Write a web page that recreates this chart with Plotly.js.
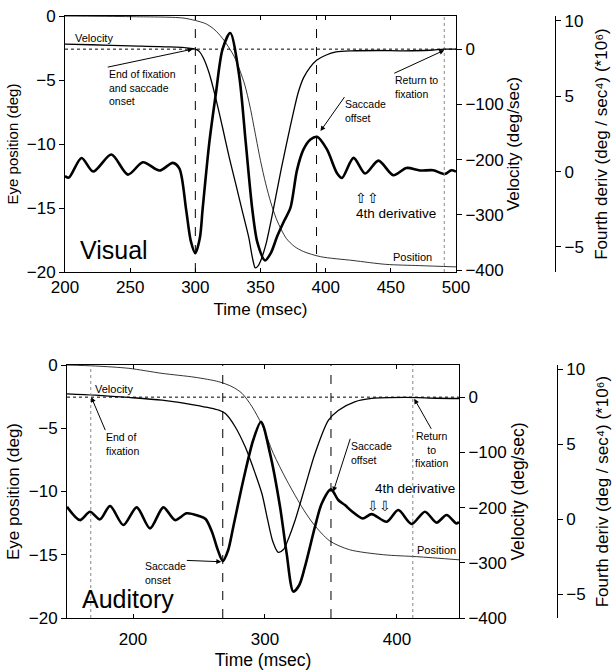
<!DOCTYPE html>
<html>
<head>
<meta charset="utf-8">
<script src="https://cdn.plot.ly/plotly-3.0.1.min.js"></script>
<style>html,body{margin:0;padding:0;background:#fff;}#chart{width:612px;height:670px;}</style>
</head>
<body>
<div id="chart"></div>
<script>
// ---------- Visual saccade (top panel) ----------
const visPosT = [200, 250, 290, 300, 308, 314, 318, 322, 326, 330, 334, 338, 342, 346, 350, 354, 358, 362, 366, 370, 376, 383, 396, 421, 446, 472, 500];
const visPos  = [0, -0.05, -0.15, -0.35, -0.6, -1.0, -1.4, -1.9, -2.5, -3.2, -4.2, -5.4, -7.1, -9.2, -11.3, -13.1, -14.6, -15.8, -16.7, -17.4, -18.0, -18.4, -18.8, -19.1, -19.4, -19.5, -19.6];

const visVelT = [200, 220, 250, 280, 295, 300, 303, 306, 310.7, 315.8, 320.8, 326, 331, 336, 341, 344, 346, 348, 350, 354, 358, 362, 366, 370, 375.6, 379, 383, 388, 393, 400, 408, 420, 440, 460, 480, 491, 500];
const visVel  = [9, 8, 6, 4, 2, 0, -4, -15, -44, -90, -141, -196, -244, -293, -341, -380, -396, -393, -384, -355, -312, -264, -216, -171, -111, -78, -52, -33, -20, -11, -5, -3, -2.5, -3, -2, 0, 0];

const vis4T = [200, 203, 212.7, 221.6, 235.6, 248.3, 259.8, 272.5, 282.7, 287.8, 292.9, 296.5, 300, 303.5, 305.6, 310.7, 315.8, 320.8, 326.8, 333.6, 338.7, 343.7, 347.6, 353.5, 358, 362.8, 368, 373, 378, 383, 388.3, 393.4, 401, 408.6, 412.5, 421.4, 430.3, 440.5, 451.9, 462, 472.3, 482.4, 491.4, 496.4, 500];
const vis4  = [-0.3, -0.4, 0.9, 0.0, 1.13, -0.2, 0.62, 0.07, 0.58, 0.2, -2.5, -4.6, -5.42, -4.4, -2.5, 1.9, 5.2, 8.1, 9.2, 6.4, 1.9, -2.5, -4.7, -5.9, -5.4, -4.3, -3.3, -2.4, 0.1, 1.47, 2.13, 2.31, 1.47, -0.09, -0.42, 0.91, -0.13, 0.73, -0.24, 0.24, 0.07, 0.09, -0.16, 0.09, 0.0];

const visDashed = [300, 393];   // saccade onset / offset
const visDotted = [491];        // return to fixation
const visXTicks = [200, 250, 300, 350, 400, 450, 500];

// ---------- Auditory saccade (bottom panel) ----------
const audPosT = [150, 171.5, 196.7, 222, 247, 265, 275, 282.6, 290.2, 297.7, 306.3, 316.4, 329, 337, 349, 364, 390, 415, 447];
const audPos  = [0, -0.08, -0.26, -0.66, -0.97, -1.32, -1.71, -2.24, -3.3, -4.74, -6.98, -9.1, -11.4, -12.6, -13.9, -14.6, -15.0, -15.15, -15.4];

const audVelT = [150, 171.5, 196.7, 222, 247, 265, 270, 277.5, 285, 292.7, 297.7, 302, 306, 310, 314, 318, 322.7, 330.3, 337.9, 348, 355.5, 368, 380.8, 406, 430, 447];
const audVel  = [6, 3.5, -0.5, -5.5, -14.5, -23.6, -29.7, -54, -90, -139, -175, -222, -262, -281, -276, -255, -224, -163, -102, -42, -24, -8.5, -2.4, -0.5, -2, -2.4];

const aud4T = [150, 159.8, 167.4, 175, 182.6, 192.7, 202.8, 212.9, 223, 231.8, 240.7, 250, 255, 260, 264, 268, 272, 276, 283.6, 291.1, 297, 303.8, 311.4, 316.4, 321.5, 326, 330.3, 337.9, 343, 350, 355.5, 360.6, 366, 374, 380.8, 392.2, 401, 411.1, 421.2, 430, 437.6, 445, 447];
const aud4  = [0.82, -0.07, 0.49, -0.02, 0.87, -0.4, 0.78, -0.62, 0.78, -0.07, 0.38, 0.2, 0.0, -0.9, -2.0, -2.8, -2.1, -0.51, 2.6, 5.27, 6.49, 4.38, 0.82, -2.29, -4.84, -4.4, -3.18, -0.51, 1.04, 1.98, 1.27, 0.93, 0.5, 0.04, 0.33, -0.18, 0.6, -0.33, 0.49, -0.24, 0.27, -0.29, -0.2];

const audDashed = [268, 350];
const audDotted = [168, 412];
const audXTicks = [200, 300, 400];

const posTicks = [-20, -15, -10, -5, 0];
const velTicks = [-400, -300, -200, -100, 0];
const d4Ticks  = [-5, 0, 5, 10];

const F = 'Liberation Sans, Arial, Helvetica, sans-serif';
const D4_TITLE = 'Fourth deriv (deg / sec\u2074) (*10\u2076)';

function line(x, y, xa, ya, w) {
  return {x: x, y: y, xaxis: xa, yaxis: ya, type: 'scatter', mode: 'lines',
          line: {color: 'black', width: w, shape: 'spline', smoothing: 0.8}, hoverinfo: 'skip'};
}

const traces = [
  line(visPosT, visPos, 'x', 'y', 0.8),
  line(visVelT, visVel, 'x', 'y2', 1.3),
  line(vis4T, vis4, 'x', 'y3', 2.6),
  line(audPosT, audPos, 'x2', 'y4', 0.8),
  line(audVelT, audVel, 'x2', 'y5', 1.3),
  line(aud4T, aud4, 'x2', 'y6', 2.6)
];

const shapes = [];
function vlines(arr, xr, yr, dash, color) {
  arr.forEach(t => shapes.push({type: 'line', xref: xr, yref: yr + ' domain', x0: t, x1: t, y0: 0, y1: 1,
    line: {color: color, width: 1, dash: dash}}));
}
vlines(visDashed, 'x', 'y', 'dash', 'black');
vlines(visDotted, 'x', 'y', 'dot', '#888');
vlines(audDashed, 'x2', 'y4', 'dash', 'black');
vlines(audDotted, 'x2', 'y4', 'dot', '#888');
shapes.push({type: 'line', xref: 'x domain', yref: 'y2', x0: 0, x1: 1, y0: 0, y1: 0, line: {color: 'black', width: 1, dash: 'dot'}});
shapes.push({type: 'line', xref: 'x2 domain', yref: 'y5', x0: 0, x1: 1, y0: 0, y1: 0, line: {color: 'black', width: 1, dash: 'dot'}});

function txt(text, x, y, xr, yr, size, xanchor, extra) {
  return Object.assign({text: text, x: x, y: y, xref: xr, yref: yr, showarrow: false,
    xanchor: xanchor || 'left', yanchor: 'middle', font: {family: F, size: size, color: 'black'}}, extra || {});
}
// labelled arrow: head at (x, y) in data units, text box anchored at the tail offset (ax, ay) in pixels
function callout(text, x, y, xr, yr, ax, ay, xanchor, align) {
  return {text: text, x: x, y: y, xref: xr, yref: yr, showarrow: true, ax: ax, ay: ay,
    xanchor: xanchor || 'left', yanchor: 'top', align: align || 'left', borderpad: 0,
    arrowhead: 2, arrowsize: 1, arrowwidth: 1, arrowcolor: 'black',
    font: {family: F, size: 10.5, color: 'black'}};
}

const annotations = [
  // top panel
  txt('Velocity', 222.1, -1.72, 'x', 'y', 11, 'center'),
  callout('End of fixation<br>and saccade<br>onset', 298, 0, 'x', 'y2', -85, 18),
  callout('Return to<br>fixation', 491, -2, 'x', 'y2', -50, 23),
  callout('Saccade<br>offset', 396, 2.69, 'x', 'y3', 24, -34),
  txt('4th derivative', 454.2, -15.4, 'x', 'y', 13.5, 'center'),
  txt('⇧⇧', 431.7, -14.2, 'x', 'y', 14, 'center'),
  txt('Position', 450.4, -18.8, 'x', 'y', 11),
  txt('Visual', 209.9, -18.3, 'x', 'y', 25),
  // bottom panel
  txt('Velocity', 185.4, -1.9, 'x2', 'y4', 11, 'center'),
  callout('End of<br>fixation', 168.4, 0, 'x2', 'y5', 14, 33),
  callout('Saccade<br>onset', 266.9, -2.85, 'x2', 'y6', -77, -3),
  callout('Saccade<br>offset', 351.7, 1.82, 'x2', 'y6', 17, -53),
  callout('Return<br>to<br>fixation', 413.1, -3, 'x2', 'y5', 17, 30, 'center', 'center'),
  txt('4th derivative', 413.6, -9.75, 'x2', 'y4', 13.5, 'center'),
  txt('⇩⇩', 386.7, -11.15, 'x2', 'y4', 14, 'center'),
  txt('Position', 413.6, -14.62, 'x2', 'y4', 11),
  txt('Auditory', 159.8, -18.5, 'x2', 'y4', 25)
];

const axCommon = {showgrid: false, zeroline: false, showline: true, linecolor: 'black', linewidth: 1,
  tickcolor: 'black', tickwidth: 1, tickfont: {family: F, size: 17, color: 'black'}};

const layout = {
  width: 612, height: 670, margin: {l: 0, r: 0, t: 0, b: 0},
  paper_bgcolor: 'white', plot_bgcolor: 'white', showlegend: false,
  font: {family: F, color: 'black', size: 17},
  xaxis: Object.assign({}, axCommon, {domain: [0.1062, 0.7451], range: [200, 500], anchor: 'y',
    tickvals: visXTicks, ticks: 'inside', ticklen: 4, mirror: 'ticks',
    title: {text: 'Time (msec)', font: {family: F, size: 17}, standoff: 6}}),
  yaxis: Object.assign({}, axCommon, {domain: [0.594, 0.9761], range: [-20, 0], anchor: 'x',
    tickvals: posTicks, ticks: 'outside', ticklen: 5, mirror: true,
    title: {text: 'Eye position (deg)', font: {family: F, size: 15}, standoff: 4}}),
  yaxis2: Object.assign({}, axCommon, {overlaying: 'y', side: 'right', anchor: 'x', range: [-403.6, 60],
    tickvals: velTicks, ticks: 'outside', ticklen: 5,
    title: {text: 'Velocity (deg/sec)', font: {family: F, size: 17}, standoff: 4}}),
  yaxis3: Object.assign({}, axCommon, {overlaying: 'y', side: 'right', anchor: 'free', position: 0.907,
    range: [-6.67, 10.33], tickvals: d4Ticks, ticks: 'outside', ticklen: 5,
    title: {text: D4_TITLE, font: {family: F, size: 17}, standoff: 12}}),
  xaxis2: Object.assign({}, axCommon, {domain: [0.1095, 0.75], range: [150, 447], anchor: 'y4',
    tickvals: audXTicks, ticks: 'inside', ticklen: 4, mirror: 'ticks', ticklabelstandoff: 6,
    title: {text: 'Time (msec)', font: {family: F, size: 17.5}, standoff: 7}}),
  yaxis4: Object.assign({}, axCommon, {domain: [0.0776, 0.4552], range: [-20, 0], anchor: 'x2',
    tickvals: posTicks, ticks: 'outside', ticklen: 5, mirror: true,
    title: {text: 'Eye position (deg)', font: {family: F, size: 17}, standoff: 4}}),
  yaxis5: Object.assign({}, axCommon, {overlaying: 'y4', side: 'right', anchor: 'x2', range: [-400, 58.2],
    tickvals: velTicks, ticks: 'outside', ticklen: 5,
    title: {text: 'Velocity (deg/sec)', font: {family: F, size: 17.5}, standoff: 6}}),
  yaxis6: Object.assign({}, axCommon, {overlaying: 'y4', side: 'right', anchor: 'free', position: 0.910,
    range: [-6.6, 10.27], tickvals: d4Ticks, ticks: 'outside', ticklen: 5,
    title: {text: D4_TITLE, font: {family: F, size: 17}, standoff: 12}}),
  shapes: shapes,
  annotations: annotations
};

Plotly.newPlot('chart', traces, layout, {staticPlot: true, displayModeBar: false});
</script>
</body>
</html>
